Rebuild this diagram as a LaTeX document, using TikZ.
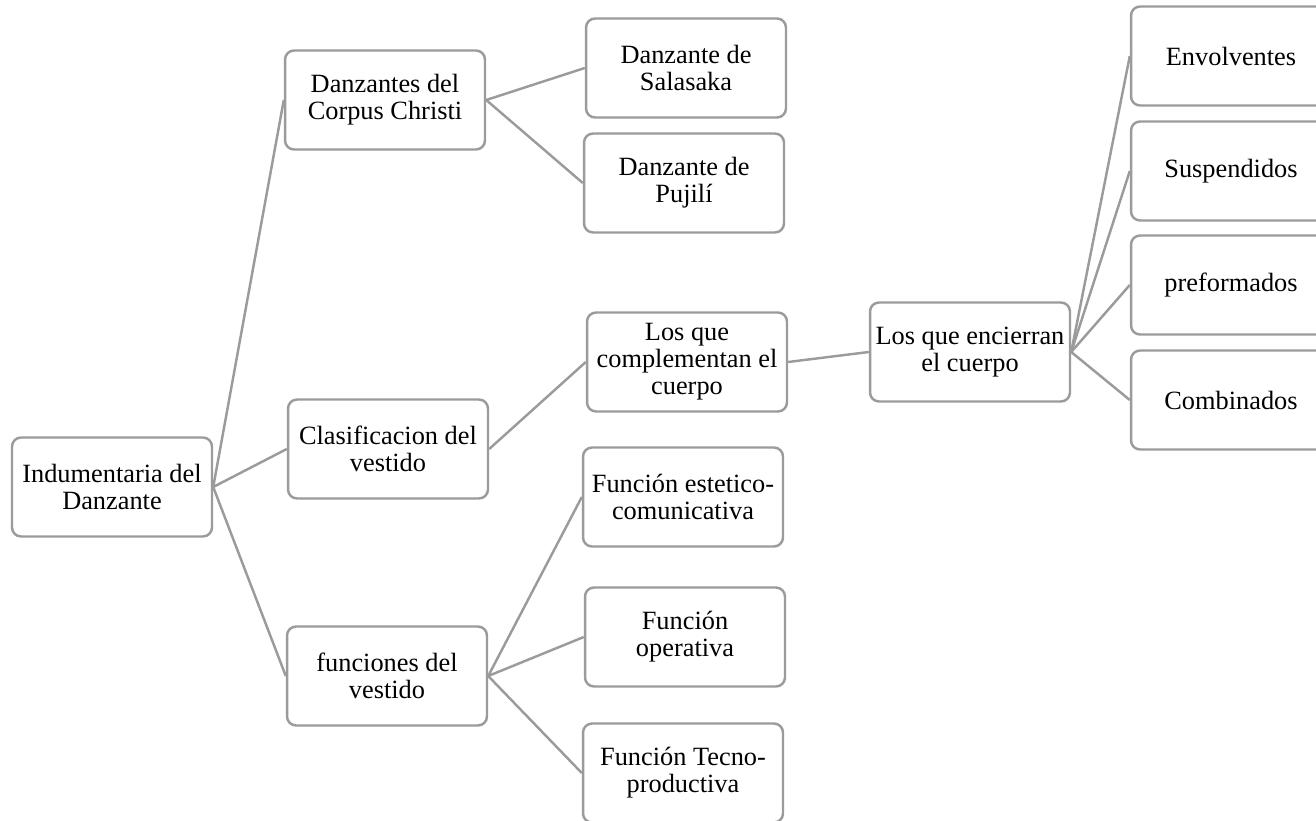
\documentclass[tikz,border=0pt]{standalone}
\usepackage{fontspec}
\setmainfont{Liberation Serif}
\usepackage{tikz}
\usetikzlibrary{positioning,calc}
\definecolor{boxgray}{RGB}{155,155,155}

\begin{document}
\begin{tikzpicture}[x=0.02cm, y=-0.02cm,
    dz block/.style={draw=boxgray, line width=1.4pt, rectangle, rounded corners=0.18cm, fill=white, minimum width=4cm, minimum height=1.98cm, align=center, inner sep=1pt, font=\fontsize{15}{15.3}\selectfont},
    dz link/.style={draw=boxgray, line width=1.4pt}]
    \useasboundingbox (0,0) rectangle (1316,821);

    \node[dz block] (indu) at (112,487) {Indumentaria del\\Danzante};

    \node[dz block] (corpus) at (385,100) {Danzantes del\\Corpus Christi};
    \node[dz block] (clasif) at (388,449) {Clasificacion del\\vestido};
    \node[dz block] (func) at (387,676) {funciones del\\vestido};

    \node[dz block] (sala) at (686,68) {Danzante de\\Salasaka};
    \node[dz block] (puji) at (684,183) {Danzante de\\Pujilí};

    \node[dz block] (compl) at (687,362) {Los que\\complementan el\\cuerpo};
    \node[dz block] (encier) at (970,352) {Los que encierran\\el cuerpo};

    \node[dz block] (envol) at (1231,56) {Envolventes};
    \node[dz block] (susp) at (1231,171) {Suspendidos};
    \node[dz block] (prefo) at (1231,285) {preformados};
    \node[dz block] (combi) at (1231,400) {Combinados};

    \node[dz block] (estet) at (683,497) {Función estetico-\\comunicativa};
    \node[dz block] (opera) at (685,637) {Función\\operativa};
    \node[dz block] (tecno) at (683,773) {Función Tecno-\\productiva};

    \draw[dz link] (indu.east) -- (corpus.west);
    \draw[dz link] (indu.east) -- (clasif.west);
    \draw[dz link] (indu.east) -- (func.west);

    \draw[dz link] (corpus.east) -- (sala.west);
    \draw[dz link] (corpus.east) -- (puji.west);

    \draw[dz link] (clasif.east) -- (compl.west);
    \draw[dz link] (compl.east) -- (encier.west);

    \foreach \n in {envol,susp,prefo,combi}
        \draw[dz link] (encier.east) -- (\n.west);

    \foreach \n in {estet,opera,tecno}
        \draw[dz link] (func.east) -- (\n.west);

\end{tikzpicture}
\end{document}
